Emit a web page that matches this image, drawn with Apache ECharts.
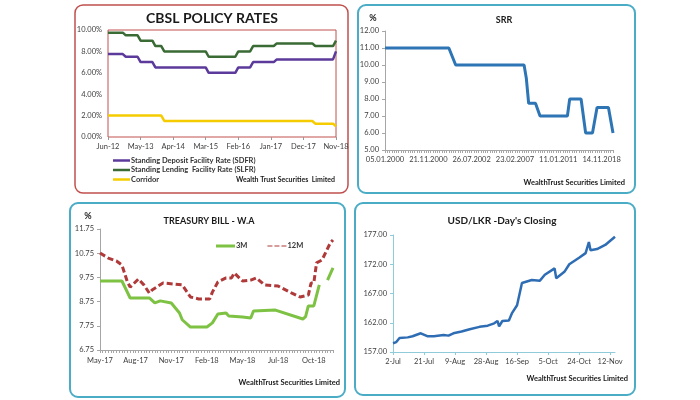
<!DOCTYPE html>
<html><head><meta charset="utf-8">
<script src="https://cdn.jsdelivr.net/npm/echarts@6/dist/echarts.min.js"></script>
<style>html,body{margin:0;padding:0;background:#fff}#c{width:700px;height:400px}</style>
</head><body><div id="c"></div>
<script>
// ---------- Chart 1: CBSL policy rates (monthly) ----------
const policyMonthStart = ['Jun', 2012];
const policyMonthCount = 78;
const sdfrData = [['Jun-12',7.75],['Nov-12',7.75],['Dec-12',7.5],['Apr-13',7.5],['May-13',7.0],['Sep-13',7.0],['Oct-13',6.5],['Mar-15',6.5],['Apr-15',6.0],['Jan-16',6.0],['Feb-16',6.5],['Jun-16',6.5],['Jul-16',7.0],['Feb-17',7.0],['Mar-17',7.25],['Oct-18',7.25],['Nov-18',8.0]];
const slfrData = [['Jun-12',9.75],['Nov-12',9.75],['Dec-12',9.5],['Apr-13',9.5],['May-13',9.0],['Sep-13',9.0],['Oct-13',8.5],['Dec-13',8.5],['Jan-14',8.0],['Mar-15',8.0],['Apr-15',7.5],['Jan-16',7.5],['Feb-16',8.0],['Jun-16',8.0],['Jul-16',8.5],['Feb-17',8.5],['Mar-17',8.75],['Mar-18',8.75],['Apr-18',8.5],['Oct-18',8.5],['Nov-18',9.0]];
const corridorData = [['Jun-12',2.0],['Dec-13',2.0],['Jan-14',1.5],['Mar-18',1.5],['Apr-18',1.25],['Oct-18',1.25],['Nov-18',1.0]];

// ---------- Chart 2: SRR ----------
const srrCategoryCount = 101;
const srrTickLabels = ['05.01.2000','21.11.2000','26.07.2002','23.02.2007','11.01.2011','14.11.2018'];
const srrData = [[0,11],[28,11],[31,10],[61,10],[62,9.2],[63,7.75],[66,7.75],[68,7.0],[80,7.0],[81,8.0],[86,8.0],[88,6.0],[91,6.0],[93,7.5],[98,7.5],[100,6.0]];

// ---------- Chart 3: Treasury bill W.A (weekly) ----------
const tbCategoryCount = 86;
const tbTickLabels = ['May-17','Aug-17','Nov-17','Feb-18','May-18','Jul-18','Oct-18'];
const tb3M = [[0,9.6],[8,9.6],[11,8.9],[18,8.9],[20,8.7],[22,8.78],[26,8.69],[29,8.28],[30,8.0],[33,7.7],[39,7.7],[41,7.87],[43,8.24],[46,8.28],[47,8.15],[52,8.11],[55,8.07],[56,8.36],[64,8.4],[74,8.03],[75,8.13],[76,8.57],[78,8.57],[80,9.44],[81,'-'],[83,9.64],[85,10.14]];
const tb12M = [[0,10.76],[3,10.55],[6,10.43],[8,10.26],[10,9.56],[11,9.35],[14,9.68],[16,9.44],[18,9.1],[19,9.23],[23,9.52],[30,9.44],[33,8.94],[36,8.86],[40,8.86],[41,9.14],[43,9.56],[46,9.73],[48,9.73],[49,9.93],[52,9.6],[55,9.64],[57,9.73],[60,9.44],[65,9.39],[70,9.1],[73,8.94],[76,9.02],[77,9.52],[78,9.52],[79,10.35],[81,10.47],[84,11.17],[85,11.3]];

// ---------- Chart 4: USD/LKR day's closing (daily) ----------
const usdMonths = [['Jul',2,31],['Aug',1,31],['Sep',1,30],['Oct',1,31],['Nov',1,15]];
const usdData = [['2-Jul',158.5],['4-Jul',158.7],['6-Jul',159.4],['11-Jul',159.5],['14-Jul',159.7],['19-Jul',160.2],['20-Jul',160.2],['23-Jul',159.7],['27-Jul',159.7],['2-Aug',159.9],['5-Aug',159.8],['8-Aug',160.2],['13-Aug',160.5],['18-Aug',160.9],['24-Aug',161.3],['29-Aug',161.5],['2-Sep',161.9],['4-Sep',162.3],['5-Sep',161.4],['7-Sep',162.3],['11-Sep',162.4],['13-Sep',163.7],['16-Sep',165.0],['19-Sep',168.8],['25-Sep',169.3],['30-Sep',169.2],['3-Oct',170.2],['9-Oct',171.3],['10-Oct',169.6],['15-Oct',170.7],['18-Oct',172.0],['24-Oct',173.1],['28-Oct',173.9],['30-Oct',175.8],['31-Oct',174.4],['4-Nov',174.6],['9-Nov',175.3],['15-Nov',176.7]];

// ---------- categories ----------
const MN = ['Jan','Feb','Mar','Apr','May','Jun','Jul','Aug','Sep','Oct','Nov','Dec'];
const policyCats = [];
{ let m = MN.indexOf(policyMonthStart[0]), y = policyMonthStart[1];
  for (let i = 0; i < policyMonthCount; i++) { policyCats.push(MN[m] + '-' + String(y).slice(2)); m++; if (m === 12) { m = 0; y++; } } }
const srrCats = Array.from({length: srrCategoryCount}, (_, i) => String(i));
const tbCats = Array.from({length: tbCategoryCount}, (_, i) => String(i));
const usdCats = [];
usdMonths.forEach(([m, s, e]) => { for (let d = s; d <= e; d++) usdCats.push(d + '-' + m); });

const FONT = 'Lato, "Open Sans", sans-serif';
const TXT = '#404040';
const TEAL = '#4bacc6';

const chart = echarts.init(document.getElementById('c'), null, {renderer: 'canvas'});
const lab = (extra) => Object.assign({color: TXT, fontSize: 7.5, fontFamily: FONT}, extra || {});
const txt = (x, y, s, size, align, extra) => ({type: 'text', x: x, y: y, style: Object.assign({text: s, fontSize: size, fontWeight: 'bold', fontFamily: FONT, fill: '#1a1a1a', textAlign: align, textVerticalAlign: 'middle'}, extra || {})});

const option = {
  animation: false,
  backgroundColor: '#fff',
  textStyle: {fontFamily: FONT},
  grid: [
    {left: 108, top: 30, width: 228, height: 107, show: true, borderColor: '#c0504d', borderWidth: 1, containLabel: false},
    {left: 385, top: 31, width: 228, height: 119, containLabel: false},
    {left: 100, top: 229, width: 233, height: 121, containLabel: false},
    {left: 393, top: 235, width: 222, height: 117, containLabel: false}
  ],
  xAxis: [
    {gridIndex: 0, type: 'category', data: policyCats, boundaryGap: false,
     axisLine: {show: false}, axisTick: {interval: 10, length: 3, lineStyle: {color: '#999'}},
     axisLabel: lab({interval: 10, margin: 6})},
    {gridIndex: 1, type: 'category', data: srrCats, boundaryGap: false,
     axisLine: {lineStyle: {color: '#a6a6a6'}}, axisTick: {interval: 0, length: 3, lineStyle: {color: '#a6a6a6'}},
     axisLabel: lab({interval: 18, margin: 6, formatter: (v, i) => srrTickLabels[Math.round(i / 19)] || ''})},
    {gridIndex: 2, type: 'category', data: tbCats, boundaryGap: false,
     axisLine: {lineStyle: {color: '#a6a6a6'}}, axisTick: {interval: 0, length: 3, lineStyle: {color: '#a6a6a6'}},
     axisLabel: lab({interval: 12, margin: 7, formatter: (v, i) => tbTickLabels[Math.round(i / 13)] || ''})},
    {gridIndex: 3, type: 'category', data: usdCats, boundaryGap: false,
     axisLine: {lineStyle: {color: '#8fcbd8'}}, axisTick: {interval: 18, length: 3, lineStyle: {color: '#8fcbd8'}},
     axisLabel: lab({interval: 18, margin: 6})}
  ],
  yAxis: [
    {gridIndex: 0, type: 'value', min: 0, max: 10, interval: 2, splitLine: {show: false},
     axisLine: {show: false}, axisTick: {show: false},
     axisLabel: lab({margin: 6, formatter: v => v.toFixed(2) + '%'})},
    {gridIndex: 1, type: 'value', min: 5, max: 12, interval: 1, splitLine: {show: false},
     axisLine: {show: true, lineStyle: {color: '#a6a6a6'}}, axisTick: {show: true, length: 3, lineStyle: {color: '#a6a6a6'}},
     axisLabel: lab({margin: 6, formatter: v => v.toFixed(2)})},
    {gridIndex: 2, type: 'value', min: 6.75, max: 11.75, interval: 1, splitLine: {show: false},
     axisLine: {show: true, lineStyle: {color: '#a6a6a6'}}, axisTick: {show: true, length: 3, lineStyle: {color: '#a6a6a6'}},
     axisLabel: lab({margin: 6, formatter: v => v.toFixed(2)})},
    {gridIndex: 3, type: 'value', min: 157, max: 177, interval: 5, splitLine: {show: false},
     axisLine: {show: true, lineStyle: {color: '#8fcbd8'}}, axisTick: {show: true, length: 3, lineStyle: {color: '#8fcbd8'}},
     axisLabel: lab({margin: 6, formatter: v => v.toFixed(2)})}
  ],
  legend: [
    {orient: 'vertical', left: 108, top: 151, itemWidth: 17, itemHeight: 2.5, itemGap: 0.5,
     icon: 'rect', textStyle: {fontSize: 7.5, color: '#333', fontWeight: 'bold', fontFamily: FONT, lineHeight: 9, padding: [0, 0, 0, -4]},
     data: ['Standing Deposit Facility Rate (SDFR)', 'Standing Lending  Facility Rate (SLFR)', 'Corridor']},
    {orient: 'horizontal', left: 211, top: 237, itemWidth: 19, itemHeight: 3, itemGap: 20,
     textStyle: {fontSize: 7.5, color: '#333', fontWeight: 'bold', fontFamily: FONT, padding: [0, 0, 0, -4]},
     data: [{name: '3M', icon: 'rect'}, {name: '12M', icon: 'path://M0,0h5v1h-5z M7,0h5v1h-5z M14,0h5v1h-5z'}]}
  ],
  series: [
    {name: 'Standing Deposit Facility Rate (SDFR)', type: 'line', xAxisIndex: 0, yAxisIndex: 0, data: sdfrData, showSymbol: false, symbol: 'none', color: '#5b3a9b', lineStyle: {width: 2.5, color: '#5b3a9b'}},
    {name: 'Standing Lending  Facility Rate (SLFR)', type: 'line', xAxisIndex: 0, yAxisIndex: 0, data: slfrData, showSymbol: false, symbol: 'none', color: '#3a6b35', lineStyle: {width: 2.5, color: '#3a6b35'}},
    {name: 'Corridor', type: 'line', xAxisIndex: 0, yAxisIndex: 0, data: corridorData, showSymbol: false, symbol: 'none', color: '#f5cc00', lineStyle: {width: 2.5, color: '#f5cc00'}},
    {name: 'SRR', type: 'line', xAxisIndex: 1, yAxisIndex: 1, data: srrData, showSymbol: false, symbol: 'none', color: '#2e75b6', lineStyle: {width: 3, color: '#2e75b6'}},
    {name: '3M', type: 'line', xAxisIndex: 2, yAxisIndex: 2, data: tb3M, showSymbol: false, symbol: 'none', connectNulls: false, color: '#7dc243', lineStyle: {width: 3, color: '#7dc243'}},
    {name: '12M', type: 'line', xAxisIndex: 2, yAxisIndex: 2, data: tb12M, showSymbol: false, symbol: 'none', color: '#b03a3a', lineStyle: {width: 3, color: '#b03a3a', type: [6, 3]}},
    {name: 'USD/LKR', type: 'line', xAxisIndex: 3, yAxisIndex: 3, data: usdData, showSymbol: false, symbol: 'none', color: '#2e6db4', lineStyle: {width: 2.5, color: '#2e6db4'}}
  ],
  graphic: [
    {type: 'rect', shape: {x: 75, y: 5, width: 273, height: 188, r: 8}, style: {fill: 'none', stroke: '#c0504d', lineWidth: 1.5}, silent: true, z: -1},
    {type: 'rect', shape: {x: 358, y: 5, width: 277, height: 188, r: 8}, style: {fill: 'none', stroke: TEAL, lineWidth: 2}, silent: true, z: -1},
    {type: 'rect', shape: {x: 70, y: 203, width: 275, height: 194, r: 8}, style: {fill: 'none', stroke: TEAL, lineWidth: 2}, silent: true, z: -1},
    {type: 'rect', shape: {x: 355, y: 203, width: 280, height: 192, r: 8}, style: {fill: 'none', stroke: TEAL, lineWidth: 2}, silent: true, z: -1},
    txt(212, 18, 'CBSL POLICY RATES', 14, 'center'),
    txt(335, 180, 'Wealth Trust Securities  Limited', 7, 'right'),
    txt(373, 18, '%', 9, 'center'),
    txt(504, 20, 'SRR', 9, 'center'),
    txt(625, 183, 'WealthTrust Securities Limited', 7.5, 'right'),
    txt(88, 216, '%', 9, 'center'),
    txt(209, 221, 'TREASURY BILL - W.A', 9, 'center'),
    txt(340, 383, 'WealthTrust Securities Limited', 7.5, 'right'),
    txt(502, 221, "USD/LKR -Day's Closing", 10, 'center'),
    txt(628, 379, 'WealthTrust Securities Limited', 7.5, 'right')
  ]
};
chart.setOption(option);
</script>
</body></html>
